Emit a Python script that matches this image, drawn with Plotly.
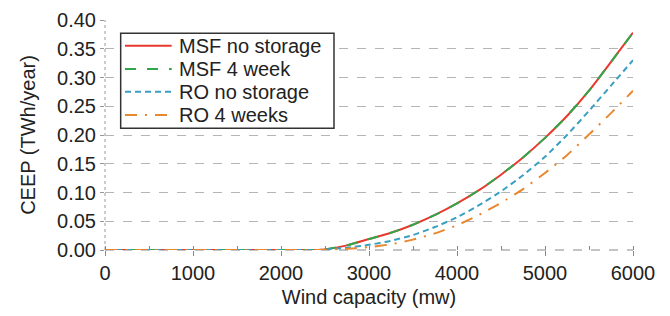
import plotly.graph_objects as go

wind_mw = [0, 500, 1000, 1500, 2000, 2420, 2500, 2750, 3000, 3250, 3500, 3750, 4000,
           4250, 4500, 4750, 5000, 5250, 5500, 5750, 6000]
msf_no_storage = [0, 0, 0, 0, 0, 0, 0.001, 0.008, 0.019, 0.030, 0.044, 0.061, 0.081,
                  0.104, 0.131, 0.161, 0.195, 0.233, 0.277, 0.327, 0.378]
msf_4_week = [0, 0, 0, 0, 0, 0, 0.001, 0.008, 0.019, 0.030, 0.044, 0.061, 0.081,
              0.104, 0.131, 0.161, 0.195, 0.233, 0.277, 0.327, 0.378]
ro_no_storage = [0, 0, 0, 0, 0, 0, 0.001, 0.004, 0.009, 0.016, 0.026, 0.040, 0.057,
                 0.078, 0.102, 0.130, 0.162, 0.200, 0.242, 0.286, 0.330]
ro_4_weeks = [0, 0, 0, 0, 0, 0, 0.0005, 0.002, 0.005, 0.010, 0.018, 0.029, 0.043,
              0.061, 0.082, 0.106, 0.134, 0.165, 0.201, 0.238, 0.277]

series_names = ["MSF no storage", "MSF 4 week", "RO no storage", "RO 4 weeks"]
x_ticks = [0, 1000, 2000, 3000, 4000, 5000, 6000]
y_ticks = [0.00, 0.05, 0.10, 0.15, 0.20, 0.25, 0.30, 0.35, 0.40]

FONT = "Liberation Sans, Arial, Helvetica, sans-serif"
FS = 20

colors = ["#e8392e", "#2ea84a", "#3a9fc2", "#e8872e"]
dashes = ["solid", "11px,11px", "6px,4px", "12px,8px,2px,8px"]
values = [msf_no_storage, msf_4_week, ro_no_storage, ro_4_weeks]

fig = go.Figure()
for name, ys, color, dash in zip(series_names, values, colors, dashes):
    fig.add_trace(go.Scatter(
        x=wind_mw, y=ys, mode="lines", name=name, showlegend=False,
        line=dict(color=color, width=2, dash=dash, shape="spline", smoothing=0.5),
    ))

# Legend drawn as a boxed key in paper coordinates
shapes = [
    dict(type="line", xref="paper", yref="paper", x0=0, x1=0, y0=0, y1=1,
         line=dict(color="#999999", width=1, dash="dot"), layer="below"),
    dict(type="line", xref="paper", yref="paper", x0=0, x1=1, y0=0, y1=0,
         line=dict(color="#888888", width=1, dash="dash"), layer="below"),
    dict(type="rect", xref="paper", yref="paper", x0=0.0297, x1=0.4337, y0=0.529, y1=0.942,
         line=dict(color="#333333", width=1.5), fillcolor="white", layer="above"),
]
annotations = []
row_y = [0.888, 0.787, 0.688, 0.587]
for name, color, dash, ry in zip(series_names, colors, dashes, row_y):
    shapes.append(dict(type="line", xref="paper", yref="paper", x0=0.0379, x1=0.1263,
                       y0=ry, y1=ry, line=dict(color=color, width=2, dash=dash), layer="above"))
    annotations.append(dict(xref="paper", yref="paper", x=0.1360, y=ry, text=name,
                            showarrow=False, xanchor="left", yanchor="middle",
                            font=dict(family=FONT, size=FS, color="#222222")))

fig.update_layout(
    width=662, height=308,
    margin=dict(l=97, r=37, t=12, b=66),
    paper_bgcolor="white", plot_bgcolor="white",
    font=dict(family=FONT, size=FS, color="#222222"),
    showlegend=False,
    xaxis=dict(
        range=[0, 6000], tickvals=x_ticks, ticktext=[str(v) for v in x_ticks],
        showgrid=False, zeroline=False, showline=False, automargin=False,
        ticks="outside", ticklen=5, tickcolor="#888888",
        minor=dict(dtick=500, ticks="inside", ticklen=4, tickcolor="#888888", showgrid=False),
        title=dict(text="Wind capacity (mw)", font=dict(size=FS), standoff=6),
        tickfont=dict(size=FS),
    ),
    yaxis=dict(
        range=[0, 0.40], tickvals=y_ticks, ticktext=[f"{v:.2f}" for v in y_ticks],
        showgrid=True, gridcolor="#b5b5b5", griddash="dash", gridwidth=1,
        zeroline=False, showline=False, automargin=False,
        ticks="outside", ticklen=4, tickcolor="#999999",
        title=dict(text="CEEP (TWh/year)", font=dict(size=FS), standoff=16),
        tickfont=dict(size=FS),
    ),
    shapes=shapes,
    annotations=annotations,
)

fig.write_html("out.html")
